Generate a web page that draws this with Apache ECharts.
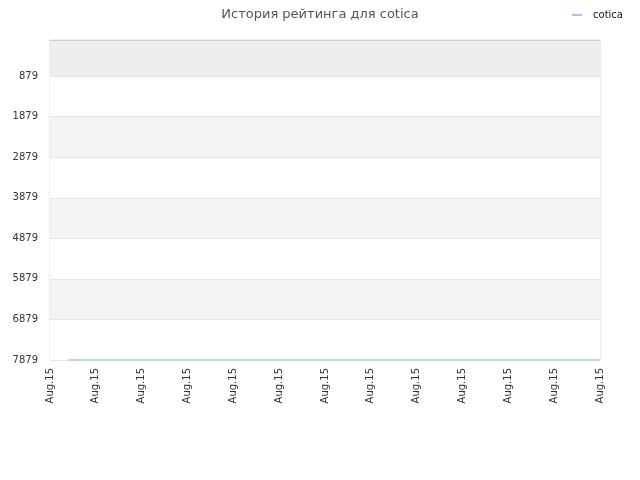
<!DOCTYPE html>
<html>
<head>
<meta charset="utf-8">
<script src="https://cdn.jsdelivr.net/npm/echarts@6/dist/echarts.min.js"></script>
<style>
  html, body { margin: 0; padding: 0; background: #fff; }
  #chart { width: 640px; height: 480px; }
</style>
</head>
<body>
<div id="chart"></div>
<script>
// данные графика
const tickLabels = ['Aug.15', 'Aug.15', 'Aug.15', 'Aug.15', 'Aug.15', 'Aug.15', 'Aug.15',
  'Aug.15', 'Aug.15', 'Aug.15', 'Aug.15', 'Aug.15', 'Aug.15'];
const yMin = -11;
const yTicks = [879, 1879, 2879, 3879, 4879, 5879, 6879, 7879];
const pointX = [0.4, 12];
const rating = [7879, 7879];

const chart = echarts.init(document.getElementById('chart'));

const option = {
  animation: false,
  title: {
    text: 'История рейтинга для cotica',
    left: 'center',
    top: 3,
    textStyle: {
      fontSize: 13,
      fontWeight: 'normal',
      color: '#555',
      fontFamily: 'DejaVu Sans'
    }
  },
  legend: {
    right: 12,
    top: 5,
    itemWidth: 16,
    itemHeight: 2,
    // короткая черта слева, справа пустое место до текста
    icon: 'path://M0,0H10V2H0Z M16,0H16.01V0.01H16Z',
    textStyle: { fontSize: 10, color: '#111', fontFamily: 'DejaVu Sans' },
    data: ['cotica']
  },
  grid: {
    left: 50,
    right: 40,
    top: 40,
    bottom: 120,
    show: true,
    borderColor: '#ddd',
    borderWidth: 1
  },
  xAxis: {
    type: 'value',
    min: 0,
    max: tickLabels.length - 1,
    interval: 1,
    axisLine: { show: true, lineStyle: { color: '#ccc' } },
    axisTick: { show: false },
    splitLine: { show: false },
    axisLabel: {
      rotate: 90,
      fontSize: 10,
      color: '#333',
      fontFamily: 'DejaVu Sans',
      margin: 8,
      formatter: function (v) { return tickLabels[Math.round(v)]; }
    }
  },
  yAxis: {
    type: 'value',
    inverse: true,
    min: yMin,
    max: 7879,
    axisLine: { show: false },
    axisTick: { show: false, customValues: [yMin].concat(yTicks) },
    axisLabel: {
      customValues: yTicks,
      fontSize: 10,
      color: '#333',
      fontFamily: 'DejaVu Sans',
      margin: 12,
      formatter: function (v) { return String(v); }
    },
    splitLine: { show: true, lineStyle: { color: '#e6e6e6' } },
    splitArea: { show: true, areaStyle: { color: ['#eeeeee', '#ffffff', '#f4f4f4', '#ffffff', '#f4f4f4', '#ffffff', '#f4f4f4', '#ffffff'] } }
  },
  series: [
    {
      name: 'cotica',
      type: 'line',
      data: pointX.map((x, i) => [x, rating[i]]),
      showSymbol: false,
      itemStyle: { color: '#9ec9f2' },
      lineStyle: { width: 1.5, color: '#9ec9f2' }
    }
  ]
};

chart.setOption(option);
</script>
</body>
</html>
